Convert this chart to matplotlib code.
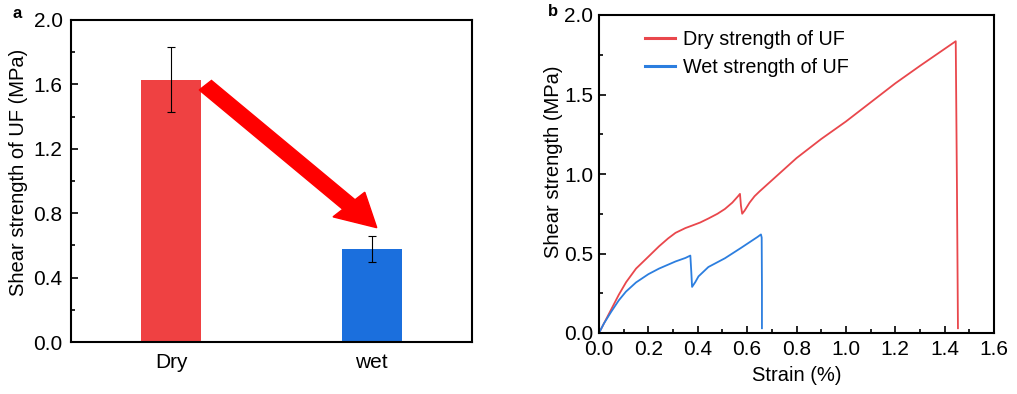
import numpy as np
import matplotlib
matplotlib.use('Agg')
import matplotlib.pyplot as plt
from matplotlib.ticker import MultipleLocator, FormatStrFormatter
from matplotlib.patches import FancyArrow

plt.rcParams['font.family'] = ['Liberation Sans', 'DejaVu Sans']
plt.rcParams['font.size'] = 15

# bar chart data
groups = ['Dry', 'wet']
strength = [1.63, 0.58]
strength_err = [0.20, 0.08]
bar_colors = ['#EF4142', '#1B6FDD']

# stress-strain curves
dry_strain = [0.0, 0.02, 0.05, 0.08, 0.11, 0.15, 0.2, 0.243, 0.28, 0.31, 0.35, 0.376, 0.41, 0.443,
              0.48, 0.51, 0.54, 0.563, 0.571, 0.575, 0.58, 0.59, 0.61, 0.63, 0.65, 0.7, 0.8, 0.9,
              1.0, 1.1, 1.2, 1.3, 1.445, 1.45, 1.454]
dry_stress = [0.0, 0.06, 0.15, 0.24, 0.32, 0.405, 0.48, 0.545, 0.595, 0.63, 0.66, 0.675, 0.695, 0.72,
              0.75, 0.78, 0.82, 0.86, 0.875, 0.80, 0.75, 0.77, 0.82, 0.86, 0.89, 0.96, 1.10, 1.22,
              1.33, 1.45, 1.57, 1.68, 1.835, 0.9, 0.03]
wet_strain = [0.0, 0.02, 0.05, 0.08, 0.109, 0.15, 0.2, 0.243, 0.31, 0.35, 0.37, 0.374, 0.377, 0.39,
              0.403, 0.443, 0.51, 0.576, 0.643, 0.656, 0.659, 0.66, 0.66]
wet_stress = [0.0, 0.06, 0.135, 0.205, 0.26, 0.318, 0.37, 0.405, 0.45, 0.472, 0.487, 0.38, 0.29, 0.32,
              0.356, 0.415, 0.47, 0.536, 0.605, 0.62, 0.60, 0.3, 0.03]

fig = plt.figure(figsize=(10.17, 3.94), dpi=100)
ax1 = fig.add_axes([71 / 1017, 52 / 394, 401 / 1017, 322 / 394])
ax2 = fig.add_axes([599 / 1017, 61 / 394, 395 / 1017, 318 / 394])

x = np.arange(len(groups))
ax1.bar(x, strength, width=0.3, color=bar_colors, zorder=2)
ax1.errorbar(x, strength, yerr=strength_err, fmt='none', ecolor='black',
             elinewidth=0.8, capsize=3, capthick=0.8, zorder=3)
ax1.add_patch(FancyArrow(0.17, 1.595, 0.855, -0.885, width=0.085, head_width=0.22,
                         head_length=0.2, length_includes_head=True, color='#FF0000',
                         transform=ax1.transData, zorder=4))
ax1.set_xlim(-0.5, 1.5)
ax1.set_ylim(0, 2.0)
ax1.set_xticks(x)
ax1.set_xticklabels(groups)
ax1.yaxis.set_major_locator(MultipleLocator(0.4))
ax1.yaxis.set_minor_locator(MultipleLocator(0.2))
ax1.yaxis.set_major_formatter(FormatStrFormatter('%.1f'))
ax1.tick_params(axis='x', length=0, pad=8)
ax1.tick_params(axis='y', which='both', direction='in', width=1.2, pad=6)
ax1.tick_params(axis='y', which='major', length=5)
ax1.tick_params(axis='y', which='minor', length=3)
ax1.set_ylabel('Shear strength of UF (MPa)', fontsize=14.5)
ax1.yaxis.set_label_coords(-0.108, 0.528)

ax2.plot(dry_strain, dry_stress, color='#E9474C', lw=1.3, label='Dry strength of UF')
ax2.plot(wet_strain, wet_stress, color='#2C7EDF', lw=1.3, label='Wet strength of UF')
ax2.set_xlim(0, 1.6)
ax2.set_ylim(0, 2.0)
ax2.xaxis.set_major_locator(MultipleLocator(0.2))
ax2.xaxis.set_minor_locator(MultipleLocator(0.1))
ax2.yaxis.set_major_locator(MultipleLocator(0.5))
ax2.yaxis.set_minor_locator(MultipleLocator(0.25))
ax2.xaxis.set_major_formatter(FormatStrFormatter('%.1f'))
ax2.yaxis.set_major_formatter(FormatStrFormatter('%.1f'))
ax2.tick_params(which='both', direction='in', width=1.2)
ax2.tick_params(axis='x', pad=5)
ax2.tick_params(axis='y', pad=4)
ax2.tick_params(which='major', length=5)
ax2.tick_params(which='minor', length=3)
ax2.set_xlabel('Strain (%)', fontsize=14.5, labelpad=5)
ax2.set_ylabel('Shear strength (MPa)', fontsize=14.5)
ax2.yaxis.set_label_coords(-0.092, 0.538)
leg = ax2.legend(loc='upper left', bbox_to_anchor=(0.08, 1.0), frameon=False, fontsize=14.2,
                 handlelength=1.5, handletextpad=0.4, labelspacing=0.45, borderaxespad=0.35)
for line in leg.get_lines():
    line.set_linewidth(2.2)

for ax in (ax1, ax2):
    for s in ax.spines.values():
        s.set_linewidth(1.5)

fig.text(17 / 1017, 1 - 14 / 394, 'a', fontsize=12, fontweight='bold', va='center', ha='center')
fig.text(553 / 1017, 1 - 11 / 394, 'b', fontsize=12, fontweight='bold', va='center', ha='center')

fig.savefig('out.png', dpi=100)
